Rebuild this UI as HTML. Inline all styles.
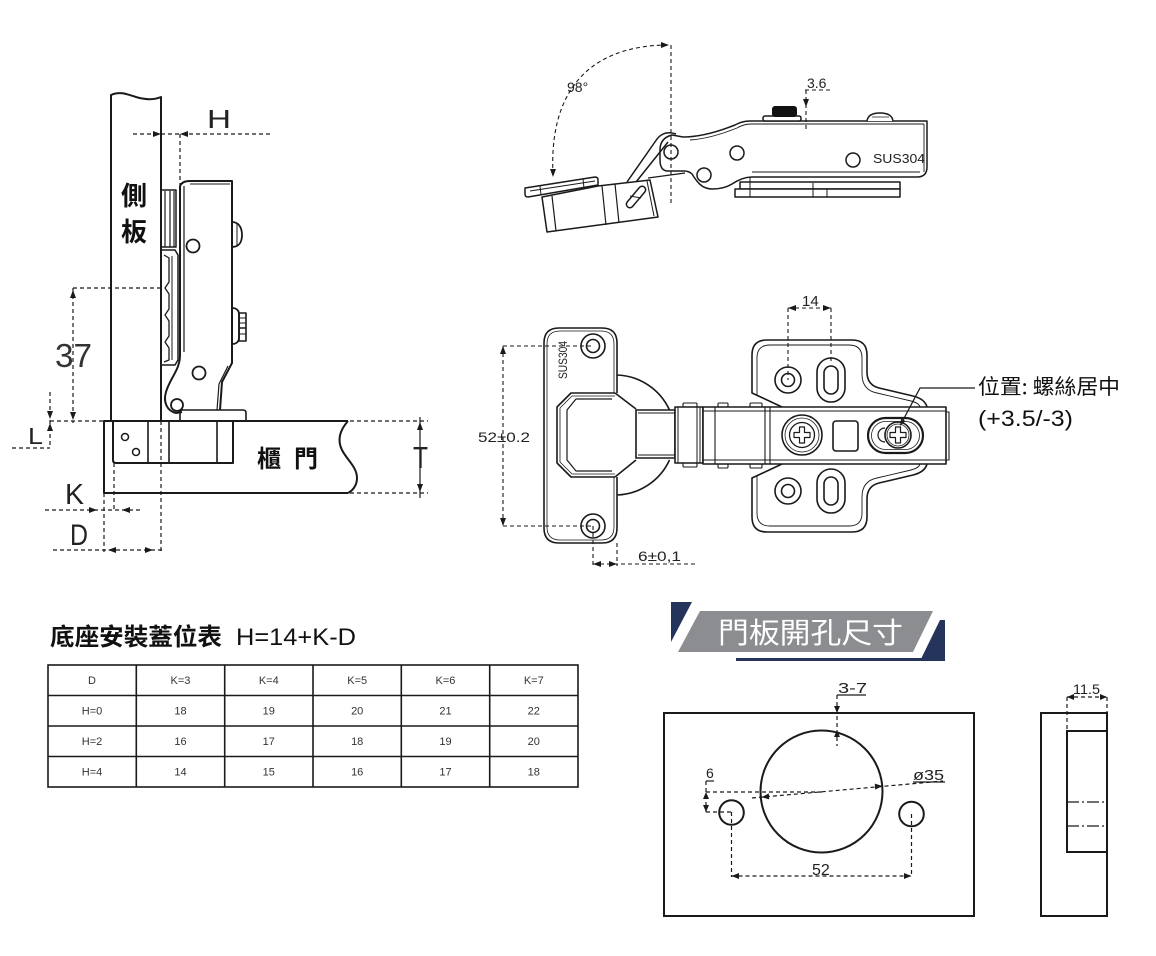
<!DOCTYPE html>
<html><head><meta charset="utf-8">
<style>
html,body{margin:0;padding:0;background:#fff;}
svg{display:block;}
text{font-family:"Liberation Sans","Noto Sans CJK TC",sans-serif;}
.cjk{font-family:"Noto Sans CJK TC","Noto Sans CJK SC",sans-serif;}
</style></head>
<body>
<svg width="1156" height="956" viewBox="0 0 1156 956" xmlns="http://www.w3.org/2000/svg">
<rect width="1156" height="956" fill="#fff"/>

<!-- ================= LEFT DRAWING ================= -->
<g stroke="#1a1a1a" fill="none" stroke-width="2" stroke-linejoin="round">
  <path d="M111,421 V95 C119,91 127,94 136,97 C146,100 154,100 161,97 V421"/>
  <path d="M348,421 H104 V493 H348"/>
  <path d="M348,421 C340,430 337,440 342,450 C347,460 357,467 357,478 C357,486 352,491 348,493"/>
  <path d="M113,421 V460 Q113,463 116,463 H233 V421"/>
  <line x1="148" y1="421" x2="148" y2="463" stroke-width="1.6"/>
  <line x1="169" y1="421" x2="169" y2="463" stroke-width="1.6"/>
  <line x1="217" y1="421" x2="217" y2="463" stroke-width="1.6"/>
  <circle cx="125" cy="437" r="3.5" stroke-width="1.5"/>
  <circle cx="136" cy="452" r="3.5" stroke-width="1.5"/>
  <path d="M180,421 V412 Q180,410 183,410 H243 Q246,410 246,413 V421" stroke-width="1.6"/>
  <path d="M180,186 Q182,181 190,181 H232 V363 L222,382 L220,410"/>
  <path d="M228,366 L219,384 L217,410" stroke-width="1.2"/>
  <path d="M180,186 V355 C180,370 170,378 166,392 C163,402 167,411 176,413 L182,412" />
  <line x1="184" y1="186" x2="184" y2="352" stroke-width="1.2"/>
  <line x1="190" y1="184" x2="230" y2="184" stroke-width="1"/>
  <circle cx="193" cy="246" r="6.5" stroke-width="1.8"/>
  <circle cx="199" cy="373" r="6.5" stroke-width="1.8"/>
  <circle cx="177" cy="405" r="6" stroke-width="1.8"/>
  <path d="M161,190 H176 V247 H161" stroke-width="1.5"/>
  <line x1="165" y1="191" x2="165" y2="247" stroke-width="1.2"/>
  <line x1="170" y1="191" x2="170" y2="247" stroke-width="1.2"/>
  <line x1="174" y1="191" x2="174" y2="247" stroke-width="1.2"/>
  <path d="M161,250 H175 L178,255 V360 L175,365 H161" stroke-width="1.5"/>
  <path d="M164,255 L169,258 V282 L165,288 L169,294 V309 L165,315 L169,321 V336 L165,342 L169,348 V360 L164,362" stroke-width="1.3"/>
  <line x1="172" y1="256" x2="172" y2="360" stroke-width="1"/>
  <path d="M232,222 C239,222 242,228 242,235 C242,242 239,247 232,247" stroke-width="1.8"/>
  <line x1="237" y1="224" x2="237" y2="245" stroke-width="1"/>
  <path d="M232,308 C237,308 239,311 239,314 V338 C239,341 237,344 232,344" stroke-width="1.8"/>
  <rect x="239" y="313" width="7" height="28" stroke-width="1.6"/>
  <line x1="239" y1="318" x2="246" y2="318" stroke-width="1"/>
  <line x1="239" y1="323" x2="246" y2="323" stroke-width="1"/>
  <line x1="239" y1="328" x2="246" y2="328" stroke-width="1.5"/>
  <line x1="239" y1="334" x2="246" y2="334" stroke-width="1"/>
</g>
<g stroke="#1a1a1a" fill="none" stroke-width="1.2" stroke-dasharray="4,3">
  <line x1="133" y1="134" x2="273" y2="134"/>
  <line x1="180" y1="134" x2="180" y2="250"/>
  <line x1="73" y1="288" x2="73" y2="423"/>
  <line x1="73" y1="288" x2="161" y2="288"/>
  <line x1="50" y1="392" x2="50" y2="448"/>
  <line x1="50" y1="421" x2="104" y2="421"/>
  <line x1="12" y1="448" x2="50" y2="448"/>
  <line x1="45" y1="510" x2="140" y2="510"/>
  <line x1="104" y1="493" x2="104" y2="552"/>
  <line x1="114" y1="463" x2="114" y2="512"/>
  <line x1="53" y1="550" x2="165" y2="550"/>
  <line x1="161" y1="421" x2="161" y2="552"/>
  <line x1="350" y1="421" x2="428" y2="421"/>
  <line x1="350" y1="493" x2="428" y2="493"/>
</g>
<line x1="420" y1="417" x2="420" y2="498" stroke="#1a1a1a" stroke-width="1.2"/>
<g fill="#1a1a1a">
  <polygon points="153,131 153,137 161,134"/>
  <polygon points="188,131 188,137 180,134"/>
  <polygon points="70,298 76,298 73,290"/>
  <polygon points="70,412 76,412 73,420"/>
  <polygon points="47,411 53,411 50,419"/>
  <polygon points="47,431 53,431 50,423"/>
  <polygon points="89,507 89,513 97,510"/>
  <polygon points="130,507 130,513 122,510"/>
  <polygon points="116,547 116,553 108,550"/>
  <polygon points="145,547 145,553 153,550"/>
  <polygon points="417,430 423,430 420,422"/>
  <polygon points="417,484 423,484 420,492"/>
</g>
<g fill="#222">
  <text x="207" y="128" font-size="26" textLength="24" lengthAdjust="spacingAndGlyphs">H</text>
  <text x="55" y="367" font-size="33" textLength="37" lengthAdjust="spacingAndGlyphs" fill="#333">37</text>
  <text x="28" y="444" font-size="23" textLength="15" lengthAdjust="spacingAndGlyphs">L</text>
  <text x="65" y="504" font-size="29" textLength="19" lengthAdjust="spacingAndGlyphs">K</text>
  <text x="70" y="545" font-size="30" textLength="18" lengthAdjust="spacingAndGlyphs">D</text>
  <text x="413" y="468" font-size="31" textLength="15" lengthAdjust="spacingAndGlyphs">T</text>
  <text class="cjk" x="121" y="205" font-size="26" font-weight="bold" fill="#111">側</text>
  <text class="cjk" x="121" y="241" font-size="26" font-weight="bold" fill="#111">板</text>
  <text class="cjk" x="257" y="467" font-size="24" font-weight="bold" fill="#111">櫃</text>
  <text class="cjk" x="294" y="467" font-size="24" font-weight="bold" fill="#111">門</text>
</g>

<!-- ================= TOP HINGE ================= -->
<g stroke="#1a1a1a" fill="none" stroke-width="1.5" stroke-linejoin="round">
  <rect x="740" y="182" width="160" height="7" fill="#fff"/>
  <rect x="735" y="189" width="165" height="8" fill="#fff"/>
  <line x1="750" y1="176" x2="750" y2="197" stroke-width="1"/>
  <line x1="813" y1="183" x2="813" y2="197" stroke-width="1"/>
  <line x1="827" y1="189" x2="827" y2="197" stroke-width="1"/>
  <path d="M683,137 C700,137 720,131 735,125 Q742,121 750,121 H927 V167 Q927,177 917,177 H752 C744,177 738,180 732,184 Q724,189 712,189 C702,189 697,182 692,174 Q689,171 684,171 H668 Q660,171 660,160 V150 Q660,138 672,135 Z" fill="#fff"/>
  <path d="M690,140 C706,139 722,134 737,128 Q744,124 751,124 H924" stroke-width="0.9"/>
  <line x1="752" y1="172" x2="920" y2="172" stroke-width="0.9"/>
  <path d="M924,124 V172" stroke-width="0.9"/>
  <circle cx="671" cy="152" r="7"/>
  <circle cx="737" cy="153" r="7"/>
  <circle cx="704" cy="175" r="7"/>
  <circle cx="853" cy="160" r="7"/>
  <rect x="763" y="116" width="38" height="5" rx="2" fill="#fff"/>
  <path d="M867,121 Q868,113 880,113 Q892,113 893,121" fill="#fff"/>
  <line x1="872" y1="117" x2="889" y2="117" stroke-width="0.8"/>
  <path d="M676,134 Q664,130 657,139 L627,182"/>
  <path d="M668,142 L636,182"/>
  <path d="M648,178 L685,173" stroke-width="1.2"/>
  <!-- cup -->
  <path d="M542,197 L598,186 L650,180 L658,217 L547,232 Z" fill="#fff"/>
  <path d="M525,188 L595,177 Q598,177 598,180 V185 L528,197 Q525,197 525,194 Z" fill="#fff"/>
  <line x1="530" y1="191" x2="595" y2="181" stroke-width="0.9"/>
  <line x1="540" y1="186" x2="541" y2="195" stroke-width="1"/>
  <line x1="583" y1="179" x2="584" y2="188" stroke-width="1"/>
  <line x1="552" y1="196" x2="556" y2="231" stroke-width="1.2"/>
  <line x1="602" y1="186" x2="606" y2="225" stroke-width="1.2"/>
  <line x1="615" y1="184" x2="619" y2="223" stroke-width="1.2"/>
  <line x1="647" y1="181" x2="654" y2="216" stroke-width="1"/>
  <rect x="632.5" y="184" width="7" height="26" rx="3.5" transform="rotate(40 636 197)"/>
  <line x1="630" y1="196" x2="641" y2="198" stroke-width="1"/>
</g>
<rect x="772" y="106" width="25" height="11" rx="3" fill="#111"/>
<g stroke="#1a1a1a" fill="none" stroke-width="1.1" stroke-dasharray="4,3">
  <line x1="671" y1="45" x2="671" y2="203"/>
  <path d="M553,175 C549,95 585,47 665,45"/>
  <line x1="805" y1="90" x2="830" y2="90"/>
  <line x1="806" y1="90" x2="806" y2="130"/>
</g>
<g fill="#1a1a1a">
  <polygon points="550,169 556,169 553,177"/>
  <polygon points="661,42 661,48 669,45"/>
  <polygon points="803,99 809,99 806,107"/>
</g>
<g fill="#222" font-size="14">
  <text x="567" y="92">98°</text>
  <text x="807" y="88">3.6</text>
  <text x="873" y="163" font-size="13" textLength="52" lengthAdjust="spacingAndGlyphs">SUS304</text>
</g>

<!-- ================= MIDDLE HINGE ================= -->
<g stroke="#1a1a1a" fill="none" stroke-width="1.6" stroke-linejoin="round">
  <path d="M617,375 A60,60 0 0 1 669.5,410"/>
  <path d="M669.5,460 A60,60 0 0 1 617,495"/>
  <path d="M617,393 V343 Q617,328 602,328 H559 Q544,328 544,343 V528 Q544,543 559,543 H602 Q617,543 617,528 V477"/>
  <path d="M614,393 V344 Q614,331 601,331 H560 Q547,331 547,344 V527 Q547,540 560,540 H601 Q614,540 614,527 V477" stroke-width="0.8"/>
  <path d="M615,393 H571 L557,407 V463 L571,477 H615"/>
  <path d="M615,396 H572 L560,408 V462 L572,474 H615" stroke-width="0.8"/>
  <path d="M612,399 H576 L567,410 V460 L576,471 H612" stroke-width="1.2"/>
  <line x1="615" y1="393" x2="636" y2="409"/>
  <line x1="615" y1="477" x2="636" y2="460"/>
  <circle cx="593" cy="346" r="12"/>
  <circle cx="593" cy="346" r="6.5"/>
  <circle cx="593" cy="526" r="12"/>
  <circle cx="593" cy="526" r="6.5"/>
  <path d="M767,340 H852 Q867,340 867,355 V372 Q867,385 879,388 L913,396 Q925,399 927,407 L927,464 Q925,472 913,475 L879,483 Q867,486 867,499 V517 Q867,532 852,532 H767 Q752,532 752,517 V478 L782,464 V407 L752,393 V355 Q752,340 767,340 Z" fill="#fff"/>
  <path d="M782,407 L757,395 V358 Q757,345 770,345 H849 Q862,345 862,358 V374 Q862,390 877,393 L911,401 Q919,403 920,407" stroke-width="0.9"/>
  <path d="M782,464 L757,476 V513 Q757,526 770,526 H849 Q862,526 862,513 V497 Q862,481 877,478 L911,470 Q919,468 920,464" stroke-width="0.9"/>
  <circle cx="788" cy="380" r="13"/>
  <circle cx="788" cy="380" r="6.5"/>
  <rect x="817" y="358" width="28" height="44" rx="14"/>
  <rect x="824" y="366" width="14" height="28" rx="7"/>
  <circle cx="788" cy="491" r="13"/>
  <circle cx="788" cy="491" r="6.5"/>
  <rect x="817" y="469" width="28" height="44" rx="14"/>
  <rect x="824" y="477" width="14" height="28" rx="7"/>
  <rect x="636" y="410" width="39" height="48" fill="#fff"/>
  <line x1="638" y1="413" x2="675" y2="413" stroke-width="0.9"/>
  <line x1="638" y1="455" x2="675" y2="455" stroke-width="0.9"/>
  <rect x="683" y="403" width="14" height="4" rx="1" stroke-width="1.1"/>
  <rect x="683" y="463" width="14" height="4" rx="1" stroke-width="1.1"/>
  <rect x="675" y="407" width="28" height="56" fill="#fff"/>
  <line x1="678" y1="407" x2="678" y2="463" stroke-width="1"/>
  <line x1="697" y1="407" x2="697" y2="463" stroke-width="1"/>
  <line x1="700" y1="407" x2="700" y2="463" stroke-width="1"/>
  <rect x="718" y="403" width="10" height="4" rx="1" stroke-width="1.1"/>
  <rect x="750" y="403" width="12" height="4" rx="1" stroke-width="1.1"/>
  <rect x="718" y="464" width="10" height="4" rx="1" stroke-width="1.1"/>
  <rect x="750" y="464" width="12" height="4" rx="1" stroke-width="1.1"/>
  <rect x="703" y="407" width="243" height="57" fill="#fff"/>
  <line x1="703" y1="411" x2="946" y2="411" stroke-width="0.9"/>
  <line x1="703" y1="460" x2="946" y2="460" stroke-width="0.9"/>
  <line x1="715" y1="407" x2="715" y2="464" stroke-width="1.1"/>
  <line x1="765" y1="407" x2="765" y2="464" stroke-width="1.1"/>
  <line x1="770" y1="407" x2="770" y2="464" stroke-width="1.1"/>
  <path d="M946,412 H949 V460 H946" stroke-width="1.1"/>
  <circle cx="802" cy="435" r="20"/>
  <circle cx="802" cy="435" r="17" stroke-width="0.8"/>
  <circle cx="802" cy="435" r="12.5" stroke-width="1.3"/>
  <path d="M799.5,427 H804.5 V432.5 H810 V437.5 H804.5 V443 H799.5 V437.5 H794 V432.5 H799.5 Z" stroke-width="1.2"/>
  <rect x="833" y="421" width="25" height="30" rx="3"/>
  <rect x="868" y="418" width="55" height="35" rx="17.5" stroke-width="2.2"/>
  <rect x="871.5" y="421.5" width="48" height="28" rx="14" stroke-width="0.8"/>
  <path d="M885,428 A7,7 0 0 0 885,442" stroke-width="1.2"/>
  <circle cx="898" cy="435" r="13"/>
  <circle cx="898" cy="435" r="11" stroke-width="0.8"/>
  <path d="M895.5,427 H900.5 V432.5 H906 V437.5 H900.5 V443 H895.5 V437.5 H890 V432.5 H895.5 Z" stroke-width="1.2"/>
  <path d="M901,424 L920,388 H975" stroke-width="1.3"/>
</g>
<g fill="#1a1a1a">
  <polygon points="905.5,421 901.1,418.6 900,426" />
</g>
<g stroke="#1a1a1a" fill="none" stroke-width="1.1" stroke-dasharray="4,3">
  <line x1="503" y1="346" x2="503" y2="526"/>
  <line x1="503" y1="346" x2="593" y2="346"/>
  <line x1="503" y1="526" x2="593" y2="526"/>
  <line x1="593" y1="526" x2="593" y2="566"/>
  <line x1="617" y1="543" x2="617" y2="566"/>
  <line x1="593" y1="564" x2="695" y2="564"/>
  <line x1="788" y1="308" x2="831" y2="308"/>
  <line x1="788" y1="308" x2="788" y2="380"/>
  <line x1="831" y1="308" x2="831" y2="362"/>
</g>
<g fill="#1a1a1a">
  <polygon points="500,354 506,354 503,346"/>
  <polygon points="500,518 506,518 503,526"/>
  <polygon points="601,561 601,567 593,564"/>
  <polygon points="609,561 609,567 617,564"/>
  <polygon points="796,305 796,311 788,308"/>
  <polygon points="823,305 823,311 831,308"/>
</g>
<g fill="#222" font-size="14">
  <text x="478" y="442" textLength="52" lengthAdjust="spacingAndGlyphs">52±0.2</text>
  <text x="638" y="561" textLength="43" lengthAdjust="spacingAndGlyphs">6±0,1</text>
  <text x="802" y="306" font-size="15">14</text>
  <text x="0" y="0" font-size="12" transform="translate(567,379) rotate(-90)" textLength="38" lengthAdjust="spacingAndGlyphs">SUS304</text>
  <text class="cjk" x="978" y="394" font-size="21" fill="#111" textLength="142" lengthAdjust="spacingAndGlyphs">位置: 螺絲居中</text>
  <text x="978" y="426" font-size="22" fill="#111" textLength="95" lengthAdjust="spacingAndGlyphs">(+3.5/-3)</text>
</g>

<!-- ================= TABLE ================= -->
<text class="cjk" x="50" y="645" font-size="24" font-weight="bold" fill="#111" textLength="172" lengthAdjust="spacingAndGlyphs">底座安裝蓋位表</text>
<text x="236" y="645" font-size="24" fill="#111" textLength="120" lengthAdjust="spacingAndGlyphs">H=14+K-D</text>
<g stroke="#1a1a1a" stroke-width="1.6" fill="none">
  <rect x="48" y="665" width="530" height="122"/>
  <line x1="48" y1="695.5" x2="578" y2="695.5"/>
  <line x1="48" y1="726" x2="578" y2="726"/>
  <line x1="48" y1="756.5" x2="578" y2="756.5"/>
  <line x1="136.3" y1="665" x2="136.3" y2="787"/>
  <line x1="224.7" y1="665" x2="224.7" y2="787"/>
  <line x1="313" y1="665" x2="313" y2="787"/>
  <line x1="401.3" y1="665" x2="401.3" y2="787"/>
  <line x1="489.7" y1="665" x2="489.7" y2="787"/>
</g>
<g fill="#333" font-size="11" text-anchor="middle">
  <text x="92" y="684">D</text><text x="180.5" y="684">K=3</text><text x="268.8" y="684">K=4</text><text x="357.2" y="684">K=5</text><text x="445.5" y="684">K=6</text><text x="533.8" y="684">K=7</text>
  <text x="92" y="714.5">H=0</text><text x="180.5" y="714.5">18</text><text x="268.8" y="714.5">19</text><text x="357.2" y="714.5">20</text><text x="445.5" y="714.5">21</text><text x="533.8" y="714.5">22</text>
  <text x="92" y="745">H=2</text><text x="180.5" y="745">16</text><text x="268.8" y="745">17</text><text x="357.2" y="745">18</text><text x="445.5" y="745">19</text><text x="533.8" y="745">20</text>
  <text x="92" y="775.5">H=4</text><text x="180.5" y="775.5">14</text><text x="268.8" y="775.5">15</text><text x="357.2" y="775.5">16</text><text x="445.5" y="775.5">17</text><text x="533.8" y="775.5">18</text>
</g>

<!-- ================= BANNER ================= -->
<polygon points="671,602 692,602 671,642" fill="#24345a"/>
<polygon points="700,611 933,611 913,652 678,652" fill="#8b8d90"/>
<polygon points="940,620 945,620 945,661 920,661" fill="#24345a"/>
<rect x="736" y="658" width="209" height="3" fill="#24345a"/>
<text class="cjk" x="718" y="643" font-size="29" fill="#fff" textLength="185" lengthAdjust="spacingAndGlyphs">門板開孔尺寸</text>

<!-- ================= HOLE DRAWING ================= -->
<g stroke="#1a1a1a" fill="none" stroke-width="2">
  <rect x="664" y="713" width="310" height="203"/>
  <circle cx="821.5" cy="791.5" r="61"/>
  <circle cx="731.5" cy="812.5" r="12.3"/>
  <circle cx="911.5" cy="814" r="12.3"/>
  <rect x="1041" y="713" width="66" height="203"/>
  <path d="M1107,731 H1067 V852 H1107"/>
</g>
<g stroke="#1a1a1a" fill="none" stroke-width="1.2">
  <line x1="1067" y1="802" x2="1107" y2="802" stroke-dasharray="12,3,2,3"/>
  <line x1="1067" y1="826" x2="1107" y2="826" stroke-dasharray="12,3,2,3"/>
  <g stroke-dasharray="4,3">
    <line x1="731.5" y1="812" x2="731.5" y2="877"/>
    <line x1="911.5" y1="814" x2="911.5" y2="877"/>
    <line x1="731.5" y1="876" x2="911.5" y2="876"/>
    <line x1="837" y1="695" x2="837" y2="746"/>
    <line x1="706" y1="781" x2="706" y2="812"/>
    <line x1="706" y1="792" x2="822" y2="792"/>
    <line x1="706" y1="812" x2="731" y2="812"/>
    <line x1="752" y1="798" x2="943" y2="781"/>
    <line x1="1067" y1="697" x2="1067" y2="731"/>
    <line x1="1107" y1="697" x2="1107" y2="713"/>
    <line x1="1067" y1="697" x2="1107" y2="697"/>
  </g>
  <line x1="837" y1="695" x2="866" y2="695"/>
  <line x1="706" y1="781" x2="714" y2="781"/>
  <line x1="913" y1="782" x2="945" y2="782"/>
</g>
<g fill="#1a1a1a">
  <polygon points="739,873 739,879 731.5,876"/>
  <polygon points="904,873 904,879 911.5,876"/>
  <polygon points="834,706 840,706 837,713"/>
  <polygon points="834,737 840,737 837,730"/>
  <polygon points="703,799 709,799 706,792"/>
  <polygon points="703,805 709,805 706,812"/>
  <polygon points="769.2,799.4 768.8,793.4 761.5,797.2"/>
  <polygon points="874.8,783.6 875.2,789.6 882.5,786"/>
  <polygon points="1074,694 1074,700 1067,697"/>
  <polygon points="1100,694 1100,700 1107,697"/>
</g>
<g fill="#222" font-size="15">
  <text x="838" y="693" textLength="29" lengthAdjust="spacingAndGlyphs">3-7</text>
  <text x="706" y="778" font-size="14">6</text>
  <text x="913" y="780" textLength="31" lengthAdjust="spacingAndGlyphs">ø35</text>
  <text x="812" y="875" font-size="16">52</text>
  <text x="1073" y="694" font-size="14" textLength="27" lengthAdjust="spacingAndGlyphs">11.5</text>
</g>
</svg>
</body></html>
